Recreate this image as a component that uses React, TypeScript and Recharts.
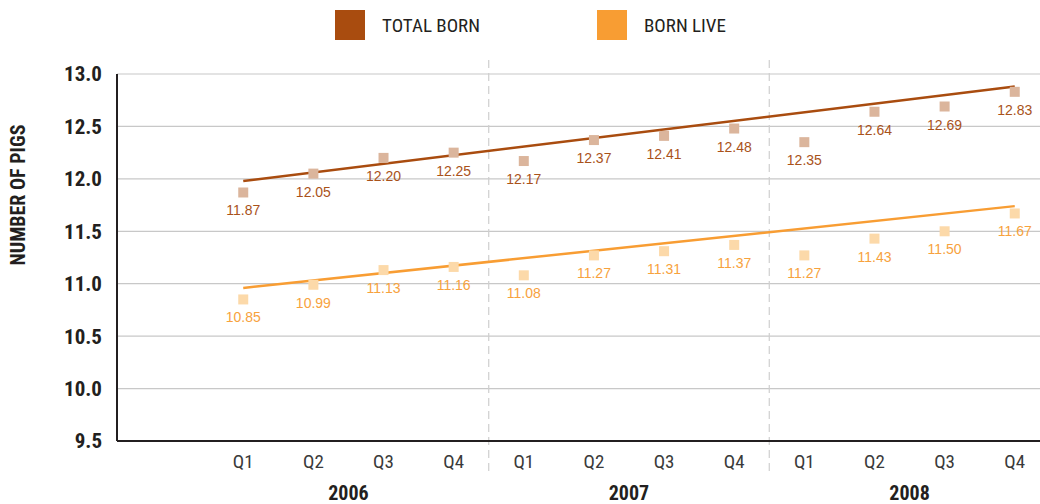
import React from "react";
import {
  CartesianGrid,
  ComposedChart,
  Line,
  ReferenceLine,
  Scatter,
  XAxis,
  YAxis,
} from "recharts";

const quarters = ["Q1", "Q2", "Q3", "Q4", "Q1", "Q2", "Q3", "Q4", "Q1", "Q2", "Q3", "Q4"];
const years = ["2006", "2007", "2008"];
const totalBorn = [11.87, 12.05, 12.2, 12.25, 12.17, 12.37, 12.41, 12.48, 12.35, 12.64, 12.69, 12.83];
const bornLive = [10.85, 10.99, 11.13, 11.16, 11.08, 11.27, 11.31, 11.37, 11.27, 11.43, 11.5, 11.67];
// trend line ends, first and last quarter
const totalTrend = [11.98, 12.88];
const liveTrend = [10.96, 11.74];
const yTicks = [9.5, 10, 10.5, 11, 11.5, 12, 12.5, 13];

const FONT = "'Liberation Sans Narrow', 'Roboto Condensed', 'Liberation Sans', sans-serif";
const DARK_BROWN = "#a94c0f";
const ORANGE = "#f89d33";

const totalData = totalBorn.map((y, i) => ({ x: i, y }));
const liveData = bornLive.map((y, i) => ({ x: i, y }));
const totalTrendData = [
  { x: 0, y: totalTrend[0] },
  { x: quarters.length - 1, y: totalTrend[1] },
];
const liveTrendData = [
  { x: 0, y: liveTrend[0] },
  { x: quarters.length - 1, y: liveTrend[1] },
];

// quarter ticks plus a half-step tick in the middle of each year for the year label
const xTicks = [
  ...quarters.map((_, i) => i),
  ...years.map((_, i) => i * 4 + 1.5),
];

function makeMarker(fill: string, textColor: string) {
  return (props: any) => {
    const { cx, cy, payload } = props;
    return (
      <g>
        <rect x={cx - 5} y={cy - 5} width={10} height={10} fill={fill} />
        <text
          x={cx}
          y={cy + 23}
          textAnchor="middle"
          fontFamily="'Liberation Sans', Arial, sans-serif"
          fontSize={14}
          fill={textColor}
        >
          {payload.y.toFixed(2)}
        </text>
      </g>
    );
  };
}

function XTick(props: any) {
  const { x, y, payload } = props;
  const v = payload.value;
  if (Number.isInteger(v)) {
    return (
      <text x={x} y={y + 19} textAnchor="middle" fontFamily={FONT} fontSize={19} fill="#3a3a3a">
        {quarters[v]}
      </text>
    );
  }
  const yi = Math.round((v - 1.5) / 4);
  return (
    <text x={x} y={y + 51} textAnchor="middle" fontFamily={FONT} fontSize={20} fontWeight="bold" fill="#231f20">
      {years[yi]}
    </text>
  );
}

function DashedDivider(props: any) {
  const { x1, y1, x2, y2 } = props;
  const top = Math.min(y1, y2);
  const bottom = Math.max(y1, y2);
  return (
    <line
      x1={x1}
      x2={x2}
      y1={top - 14}
      y2={bottom + 35}
      stroke="#cfcfcf"
      strokeWidth={1.2}
      strokeDasharray="8 5"
    />
  );
}

function Legend() {
  const item = (color: string, label: string, left: number) => (
    <div style={{ position: "absolute", left, top: 10, display: "flex", alignItems: "center" }}>
      <div style={{ width: 30, height: 30, background: color }} />
      <span style={{ marginLeft: 17, fontFamily: FONT, fontSize: 19, color: "#231f20" }}>{label}</span>
    </div>
  );
  return (
    <>
      {item(DARK_BROWN, "TOTAL BORN", 335)}
      {item(ORANGE, "BORN LIVE", 597)}
    </>
  );
}

export default function App() {
  return (
    <div style={{ position: "absolute", left: 0, top: 0, width: 1040, height: 504, background: "#fff" }}>
      <Legend />
      <ComposedChart
        width={1040}
        height={504}
        margin={{ top: 74, right: 0, bottom: 0, left: 0 }}
      >
        <CartesianGrid vertical={false} stroke="#c8c8c8" strokeWidth={1.2} />
        <XAxis
          dataKey="x"
          type="number"
          domain={[-1.8, 11.36]}
          ticks={xTicks}
          allowDataOverflow
          height={63}
          axisLine={{ stroke: "#231f20", strokeWidth: 2 }}
          tickLine={false}
          tick={<XTick />}
          interval={0}
        />
        <YAxis
          type="number"
          domain={[9.5, 13]}
          ticks={yTicks}
          width={117}
          axisLine={{ stroke: "#231f20", strokeWidth: 2 }}
          tickLine={false}
          tickSize={0}
          tickMargin={15}
          tickFormatter={(v: number) => v.toFixed(1)}
          tick={{ fontFamily: FONT, fontSize: 21, fontWeight: "bold", fill: "#231f20" }}
          label={{
            content: () => (
              <text
                x={25}
                y={195}
                transform="rotate(-90 25 195)"
                textAnchor="middle"
                fontFamily={FONT}
                fontSize={20}
                fontWeight="bold"
                fill="#231f20"
              >
                NUMBER OF PIGS
              </text>
            ),
          }}
        />
        <ReferenceLine x={3.5} shape={<DashedDivider />} />
        <ReferenceLine x={7.5} shape={<DashedDivider />} />
        <Scatter
          data={totalData}
          dataKey="y"
          isAnimationActive={false}
          shape={makeMarker("#dbb59c", "#a9521a")}
        />
        <Scatter
          data={liveData}
          dataKey="y"
          isAnimationActive={false}
          shape={makeMarker("#fcd9a9", "#f7a23d")}
        />
        <Line
          data={totalTrendData}
          dataKey="y"
          stroke={DARK_BROWN}
          strokeWidth={2.5}
          dot={false}
          activeDot={false}
          isAnimationActive={false}
        />
        <Line
          data={liveTrendData}
          dataKey="y"
          stroke={ORANGE}
          strokeWidth={2.5}
          dot={false}
          activeDot={false}
          isAnimationActive={false}
        />
      </ComposedChart>
    </div>
  );
}
